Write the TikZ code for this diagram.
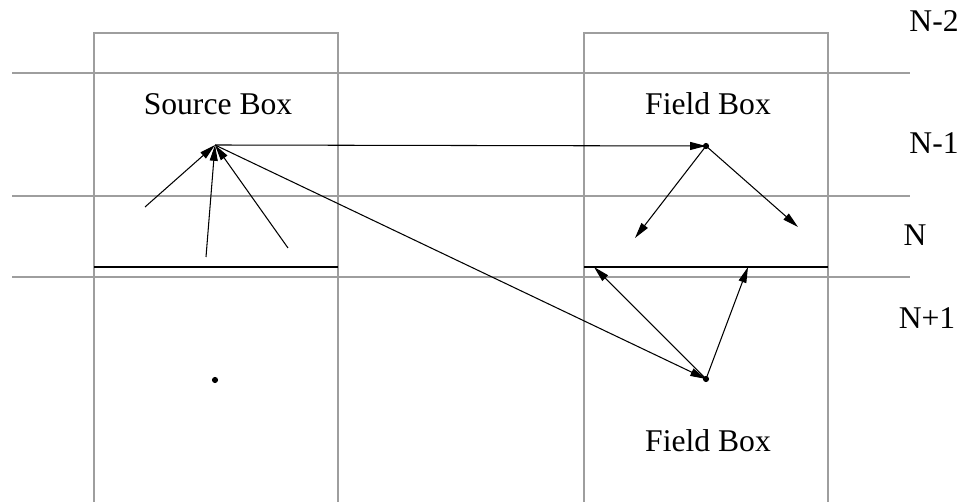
\documentclass[tikz,border=0pt]{standalone}
\usepackage{fontspec}
\setmainfont{Liberation Serif}
\usetikzlibrary{arrows.meta}
\begin{document}
\begin{tikzpicture}[x=0.02cm,y=-0.02cm,
  layer/.style={draw=black!38,line width=1.3pt},
  boxline/.style={draw=black!38,line width=1.3pt},
  edge/.style={draw=black,line width=0.6pt},
  arr/.style={edge,-{Triangle[length=9pt,width=4.5pt]}},
  lbl/.style={font=\fontsize{18}{20}\selectfont,inner sep=0pt},
  dotc/.style={circle,fill=black,inner sep=0pt,minimum size=3.5pt}]
\useasboundingbox (0,0) rectangle (970,502);
% layer lines
\draw[layer] (12,73) -- (910,73);
\draw[layer] (12,196) -- (910,196);
\draw[layer] (12,277) -- (910,277);
% boxes
\draw[boxline] (94,505) -- (94,33) -- (338,33) -- (338,505);
\draw[boxline] (584,505) -- (584,33) -- (828,33) -- (828,505);
\draw[edge] (94,267) -- (338,267);
\draw[edge] (584,267) -- (828,267);
% labels
\node[lbl] (src) at (218,104) {Source Box};
\node[lbl] (fb1) at (708,104) {Field Box};
\node[lbl] (fb2) at (708,441) {Field Box};
\node[lbl] (n2) at (934,21) {N-2};
\node[lbl] (n1) at (934,143) {N-1};
\node[lbl] (n0) at (915,235) {N};
\node[lbl] (np1) at (927,318) {N+1};
% points
\coordinate (s) at (215,145);
\coordinate (a1) at (145,207);
\coordinate (a2) at (206,257);
\coordinate (a3) at (288,248);
\node[dotc] (f1) at (706,146) {};
\node[dotc] (f2) at (706,379) {};
\node[dotc] (d) at (215,380) {};
\coordinate (b1) at (635,238);
\coordinate (b2) at (798,227);
\coordinate (c1) at (594,267);
\coordinate (c2) at (748,267);
% arrows
\draw[arr] (a1) -- (s);
\draw[arr] (a2) -- (s);
\draw[arr] (a3) -- (s);
\draw[arr] (s) -- (f1.center);
\draw[arr] (s) -- (f2.center);
\draw[arr] (f1.center) -- (b1);
\draw[arr] (f1.center) -- (b2);
\draw[arr] (f2.center) -- (c1);
\draw[arr] (f2.center) -- (c2);
\end{tikzpicture}
\end{document}
